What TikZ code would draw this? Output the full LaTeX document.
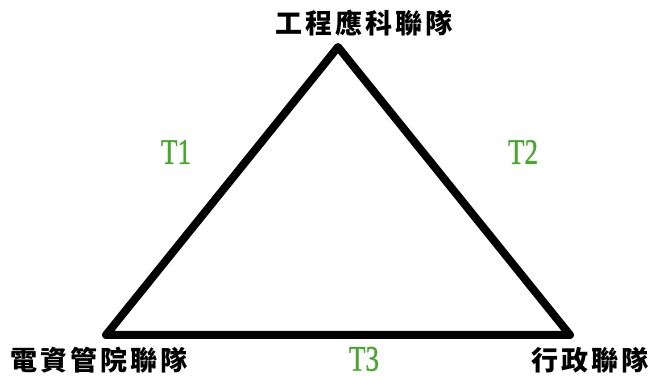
\documentclass[tikz,border=0pt]{standalone}
\usepackage{fontspec}
\setmainfont{Liberation Serif}
\newfontfamily\cjk[LetterSpace=11]{Noto Sans CJK TC}
\newfontfamily\tfont[FakeBold=1.2]{Liberation Serif}
\definecolor{tgreen}{RGB}{76,165,50}
\begin{document}
\begin{tikzpicture}[x=1pt,y=-1pt,
  team/.style={font=\cjk\bfseries\fontsize{27}{27}\selectfont, inner sep=0pt, anchor=center},
  tlabel/.style={text=tgreen, font=\tfont\fontsize{36}{36}\selectfont, inner sep=0pt, xscale=0.75, anchor=center},
  edge/.style={line width=8pt, line join=round, line cap=round}]
\useasboundingbox (0,0) rectangle (656,379);
\coordinate (top) at (338,47);
\coordinate (bl) at (106,335);
\coordinate (br) at (570,335);
\draw[edge] (top) -- (br) -- (bl) -- cycle;
\node[team] (nt) at (364,23) {工程應科聯隊};
\node[team] (nbl) at (99,360) {電資管院聯隊};
\node[team] (nbr) at (590,360) {行政聯隊};
\node[tlabel] (t1) at (176,152) {T1};
\node[tlabel] (t2) at (523,152) {T2};
\node[tlabel] (t3) at (364,359) {T3};
\end{tikzpicture}
\end{document}
